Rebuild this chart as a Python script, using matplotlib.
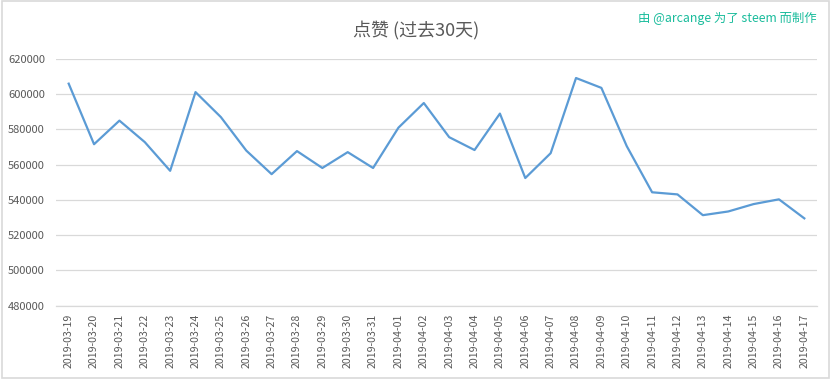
import matplotlib
matplotlib.use("Agg")
import matplotlib.pyplot as plt
from matplotlib.patches import Rectangle

plt.rcParams['font.family'] = ['Noto Sans CJK SC', 'DejaVu Sans']

# Data
dates = [
    "2019-03-19", "2019-03-20", "2019-03-21", "2019-03-22", "2019-03-23",
    "2019-03-24", "2019-03-25", "2019-03-26", "2019-03-27", "2019-03-28",
    "2019-03-29", "2019-03-30", "2019-03-31", "2019-04-01", "2019-04-02",
    "2019-04-03", "2019-04-04", "2019-04-05", "2019-04-06", "2019-04-07",
    "2019-04-08", "2019-04-09", "2019-04-10", "2019-04-11", "2019-04-12",
    "2019-04-13", "2019-04-14", "2019-04-15", "2019-04-16", "2019-04-17",
]
votes = [
    606000, 571600, 585000, 572800, 556500,
    601200, 587000, 568000, 554600, 567700,
    558100, 567100, 558100, 581000, 595000,
    575600, 568300, 589000, 552400, 566500,
    609200, 603600, 570500, 544300, 543100,
    531300, 533400, 537600, 540300, 529500,
]
yticks = [480000, 500000, 520000, 540000, 560000, 580000, 600000, 620000]

grey_text = "#595959"
grid_col = "#D9D9D9"

fig = plt.figure(figsize=(8.32, 3.79), dpi=100)
ax = fig.add_axes([56 / 832, 1 - 305.5 / 379, (817 - 56) / 832, (305.5 - 59) / 379])

x = list(range(len(dates)))
ax.plot(x, votes, color="#5B9BD5", linewidth=1.6, solid_joinstyle="round")

ax.set_xlim(-0.5, len(dates) - 0.5)
ax.set_ylim(480000, 620000)
ax.set_yticks(yticks)
ax.set_yticklabels([str(v) for v in yticks])
ax.set_xticks(x)
ax.set_xticklabels(dates, rotation=90)

ax.grid(axis="y", color=grid_col, linewidth=0.9)
ax.set_axisbelow(True)
for side in ["top", "right", "left"]:
    ax.spines[side].set_visible(False)
ax.spines["bottom"].set_color(grid_col)
ax.spines["bottom"].set_linewidth(0.9)
ax.tick_params(axis="both", length=0, labelcolor=grey_text)
ax.tick_params(axis="y", pad=8, labelsize=8)
ax.tick_params(axis="x", pad=6, labelsize=7.6)

fig.text(0.5, 1 - 31 / 379, "点赞 (过去30天)", ha="center", va="center",
         fontsize=13, color=grey_text)
fig.text(817 / 832, 1 - 18 / 379, "由 @arcange 为了 steem 而制作", ha="right",
         va="center", fontsize=8.9, color="#1ABC9C")

# light frame around the chart
fig.patches.append(Rectangle((0.002, 0.003), 0.994, 0.994, transform=fig.transFigure,
                             fill=False, edgecolor=grid_col, linewidth=1.2))

fig.savefig("out.png", dpi=100)
